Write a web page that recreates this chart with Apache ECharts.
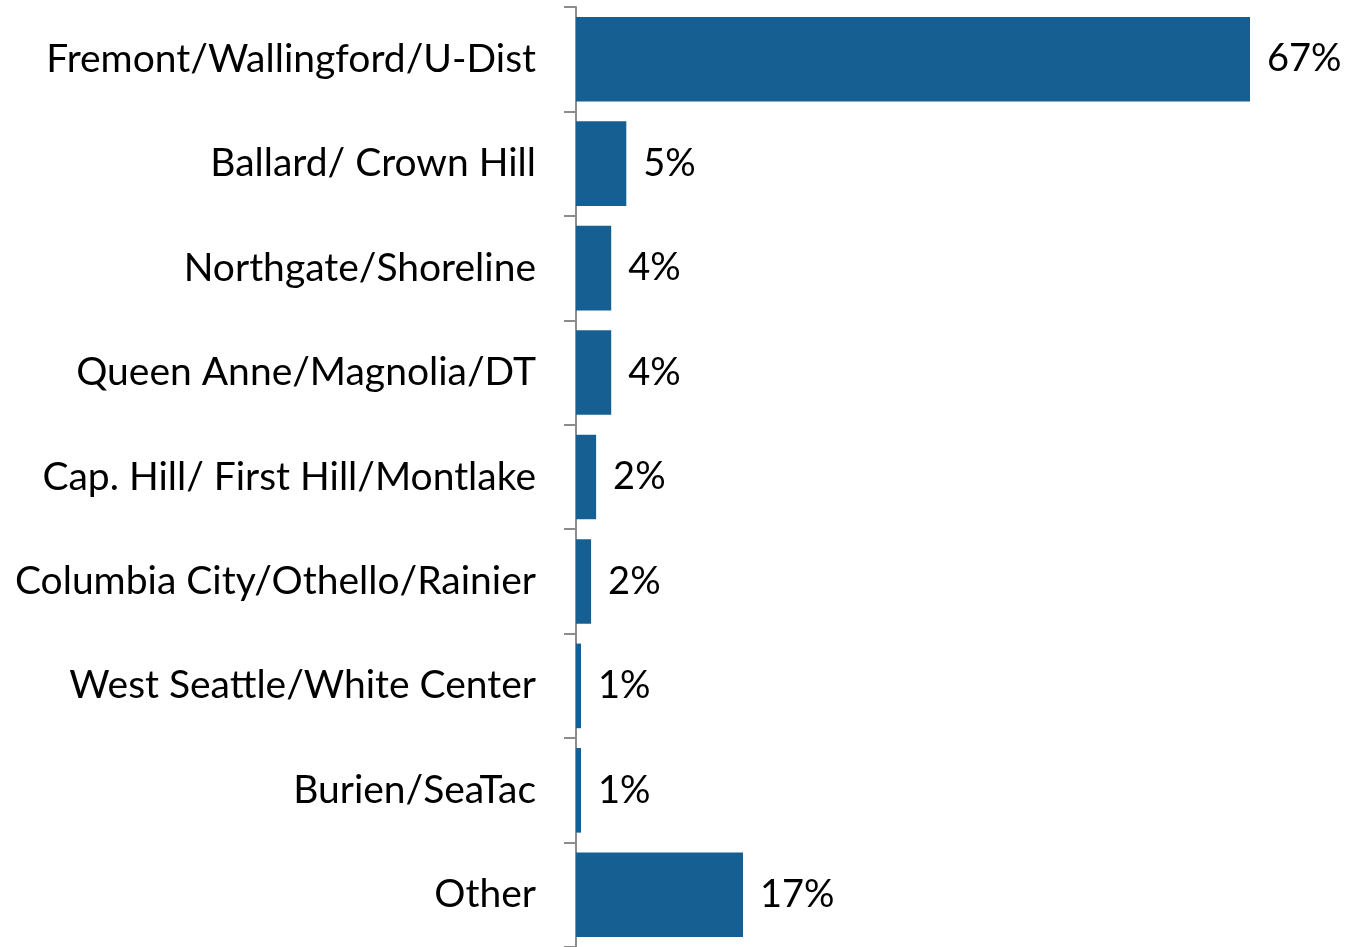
<!DOCTYPE html>
<html>
<head>
<meta charset="utf-8">
<script src="https://cdn.jsdelivr.net/npm/echarts@6/dist/echarts.min.js"></script>
<style>
  html, body { margin: 0; padding: 0; background: #fff; }
  #chart { width: 1347px; height: 947px; }
</style>
</head>
<body>
<div id="chart"></div>
<script>
// areas, top to bottom
var categories = [
  "Fremont/Wallingford/U-Dist",
  "Ballard/ Crown Hill",
  "Northgate/Shoreline",
  "Queen Anne/Magnolia/DT",
  "Cap. Hill/ First Hill/Montlake",
  "Columbia City/Othello/Rainier",
  "West Seattle/White Center",
  "Burien/SeaTac",
  "Other"
];
// share in percent
var shares = [67, 5, 3.5, 3.5, 2, 1.5, 0.5, 0.5, 16.6];

var myChart = echarts.init(document.getElementById("chart"));
var option = {
  animation: false,
  grid: {
    left: 576,
    right: 97,
    top: 7,
    height: 942
  },
  xAxis: {
    type: "value",
    min: 0,
    max: 67,
    show: false
  },
  yAxis: {
    type: "category",
    inverse: true,
    data: categories,
    axisLine: { show: true, lineStyle: { color: "#8c8c8c", width: 2 } },
    axisTick: { show: true, length: 12, lineStyle: { color: "#8c8c8c", width: 2 } },
    axisLabel: {
      margin: 40,
      color: "#000",
      fontFamily: "Lato",
      fontSize: 39
    }
  },
  series: [
    {
      type: "bar",
      data: shares,
      barCategoryGap: "19%",
      itemStyle: { color: "#165f92" },
      label: {
        show: true,
        position: "right",
        distance: 17,
        color: "#000",
        fontFamily: "Lato",
        fontSize: 38,
        formatter: function (p) {
          return Math.round(p.value) + "%";
        }
      }
    }
  ]
};
myChart.setOption(option);
</script>
</body>
</html>
